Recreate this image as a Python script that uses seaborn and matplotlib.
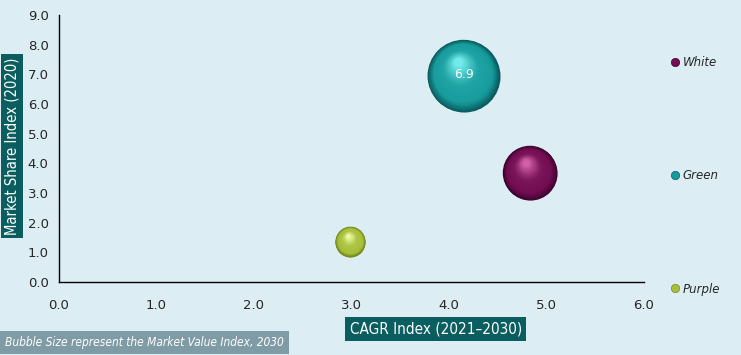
import numpy as np
import pandas as pd
import matplotlib
matplotlib.use('Agg')
import matplotlib.pyplot as plt
import matplotlib.transforms as mtransforms
from matplotlib.colors import to_rgb
from matplotlib.lines import Line2D
import seaborn as sns

# data
names = ['White', 'Green', 'Purple']
cagr = [4.83, 4.15, 2.99]
share = [3.68, 6.95, 1.36]
value_index = [3.9, 6.9, 1.2]
bubble_labels = ['', '6.9', '']

base_colors = ['#720d52', '#179b9c', '#a6c03a']
light_colors = ['#d060a8', '#70eaea', '#ecf8a0']
dark_colors = ['#3e0430', '#0a5c5e', '#74881c']

bg = '#dcedf3'
box_col = '#0b5e60'

df = pd.DataFrame({'name': names, 'cagr': cagr, 'share': share, 'size': value_index})

sns.set_style('white')
plt.rcParams['font.family'] = ['DejaVu Sans']
cond = {'family': 'DejaVu Sans', 'stretch': 'condensed'}

fig = plt.figure(figsize=(7.41, 3.55), dpi=100, facecolor=bg)
ax = fig.add_axes([0.0796, 0.2056, 0.7894, 0.7521])
ax.set_facecolor(bg)

k = 390  # points^2 per unit of bubble size
palette = dict(zip(names, dark_colors))
sns.scatterplot(data=df, x='cagr', y='share', hue='name', palette=palette,
                size='size', sizes=(min(value_index) * k, max(value_index) * k),
                size_norm=(min(value_index), max(value_index)),
                linewidth=0, legend=False, ax=ax, zorder=2)


def mix(c1, c2, t):
    a, b = np.array(to_rgb(c1)), np.array(to_rgb(c2))
    return tuple(a + (b - a) * t)


# layered shading for a glossy sphere look
n = 50
for x, y, v, c, lc, dc in zip(cagr, share, value_index, base_colors, light_colors, dark_colors):
    s = v * k
    r = np.sqrt(s) / 2
    for i in range(n):
        t = i / (n - 1)
        f = 1 - 0.88 * t
        if t < 0.2:
            col = mix(dc, c, t / 0.2)
        elif t < 0.55:
            col = mix(c, lc, 0.1 * (t - 0.2) / 0.35)
        else:
            col = mix(c, lc, 0.1 + 0.9 * ((t - 0.55) / 0.45) ** 1.2)
        dx = -0.15 * r * (1 - f) / 0.88
        dy = 0.38 * r * (1 - f) / 0.88
        tr = mtransforms.offset_copy(ax.transData, fig=fig, x=dx, y=dy, units='points')
        ax.scatter([x], [y], s=s * f * f, color=col, linewidths=0, transform=tr, zorder=3 + i * 0.01)

for x, y, lab in zip(cagr, share, bubble_labels):
    if lab:
        ax.text(x, y + 0.05, lab, color='white', fontsize=9, ha='center', va='center', zorder=5)

ax.set_xlim(0, 6)
ax.set_ylim(0, 9)
ax.set_xticks(np.arange(0, 6.1, 1))
ax.set_yticks(np.arange(0, 9.1, 1))
ax.set_xticklabels([f'{v:.1f}' for v in np.arange(0, 6.1, 1)])
ax.set_yticklabels([f'{v:.1f}' for v in np.arange(0, 9.1, 1)])
ax.tick_params(axis='both', labelsize=9.5, length=4, width=1, color='black', direction='out')
ax.tick_params(axis='x', pad=8)
for side in ['top', 'right']:
    ax.spines[side].set_visible(False)
for side in ['left', 'bottom']:
    ax.spines[side].set_color('black')
    ax.spines[side].set_linewidth(1)
ax.set_xlabel('')
ax.set_ylabel('')

# axis titles in boxes
fig.text(0.016, 0.589, 'Market Share Index (2020)', rotation=90, color='white', fontsize=10.6,
         ha='center', va='center', **cond,
         bbox=dict(boxstyle='square,pad=0.25', facecolor=box_col, edgecolor='none'))
fig.text(0.588, 0.073, 'CAGR Index (2021\u20132030)', color='white', fontsize=11,
         ha='center', va='center', **cond,
         bbox=dict(boxstyle='square,pad=0.3', facecolor=box_col, edgecolor='none'))
fig.text(0.007, 0.035, 'Bubble Size represent the Market Value Index, 2030', color='white',
         fontsize=8.6, style='italic', ha='left', va='center', **cond,
         bbox=dict(boxstyle='square,pad=0.45', facecolor='#7f9ba6', edgecolor='none'))

handles = [Line2D([], [], marker='o', linestyle='', markersize=6, markerfacecolor=c,
                  markeredgecolor=dc, markeredgewidth=0.5) for c, dc in zip(base_colors, dark_colors)]
fig.legend(handles, names, loc='upper left', bbox_to_anchor=(0.897, 0.856), frameon=False,
           prop={'size': 8.5, 'style': 'italic'}, labelspacing=8.5, handletextpad=0.1,
           handlelength=1.0, borderaxespad=0)

fig.savefig('out.png', dpi=100, facecolor=bg)
